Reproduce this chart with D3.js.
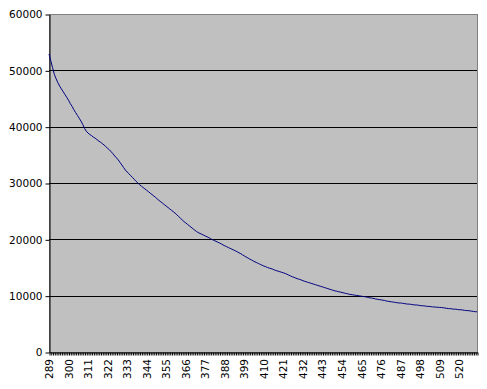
<!DOCTYPE html>
<html>
<head>
<meta charset="utf-8">
<script src="https://cdn.jsdelivr.net/npm/d3@7"></script>
<style>
  body { margin: 0; background: #fff; }
  svg text { font-family: "DejaVu Sans", sans-serif; font-size: 10.5px; fill: #000; }
</style>
</head>
<body>
<script>
// categories 289 .. 530
const categories = d3.range(289, 531);

const values = [
  52900, 51700, 50500, 49300, 48500, 47800, 47200, 46700, 46200, 45700,
  45200, 44700, 44100, 43600, 43000, 42500, 42000, 41500, 41000, 40400,
  39700, 39200, 38850, 38600, 38400, 38150, 37950, 37700, 37450, 37250,
  37000, 36750, 36450, 36150, 35900, 35550, 35200, 34800, 34450, 34100,
  33650, 33200, 32750, 32300, 31950, 31650, 31300, 31000, 30650, 30300,
  30000, 29700, 29450, 29200, 28950, 28700, 28450, 28200, 27950, 27700,
  27450, 27150, 26900, 26650, 26400, 26150, 25900, 25650, 25400, 25150,
  24900, 24650, 24350, 24050, 23750, 23450, 23150, 22900, 22650, 22400,
  22150, 21900, 21650, 21400, 21200, 21050, 20900, 20750, 20600, 20450,
  20300, 20100, 19950, 19800, 19650, 19500, 19350, 19200, 19000, 18850,
  18700, 18550, 18400, 18250, 18100, 17950, 17800, 17600, 17450, 17250,
  17050, 16850, 16700, 16500, 16350, 16150, 16000, 15850, 15700, 15550,
  15400, 15250, 15150, 15000, 14900, 14800, 14700, 14550, 14450, 14350,
  14250, 14150, 14050, 13950, 13800, 13650, 13500, 13350, 13250, 13100,
  13000, 12900, 12800, 12650, 12550, 12450, 12350, 12250, 12150, 12050,
  11950, 11850, 11750, 11650, 11550, 11450, 11350, 11250, 11150, 11050,
  10950, 10850, 10800, 10700, 10650, 10550, 10500, 10400, 10350, 10250,
  10200, 10150, 10100, 10050, 10000, 9950, 9900, 9850, 9800, 9750,
  9650, 9600, 9550, 9500, 9400, 9350, 9300, 9250, 9200, 9150,
  9050, 9000, 8950, 8900, 8850, 8800, 8750, 8700, 8700, 8650,
  8600, 8550, 8500, 8500, 8450, 8400, 8350, 8350, 8300, 8250,
  8200, 8200, 8150, 8100, 8100, 8050, 8000, 8000, 7950, 7950,
  7900, 7900, 7850, 7800, 7750, 7700, 7700, 7650, 7600, 7600,
  7550, 7500, 7500, 7450, 7400, 7350, 7350, 7300, 7250, 7200,
  7150, 7150
];

const yTicks = [0, 10000, 20000, 30000, 40000, 50000, 60000];
const xTickLabels = [289, 300, 311, 322, 333, 344, 355, 366, 377, 388, 399,
  410, 421, 432, 443, 454, 465, 476, 487, 498, 509, 520];

const width = 487, height = 389;
const margin = {top: 14, right: 10, bottom: 37, left: 49};

const svg = d3.select('body').append('svg')
  .attr('width', width)
  .attr('height', height);

const x = d3.scalePoint()
  .domain(categories)
  .range([margin.left, width - margin.right]);

const y = d3.scaleLinear()
  .domain([0, 60000])
  .range([height - margin.bottom, margin.top]);

// plot area
svg.append('rect')
  .attr('x', margin.left + 0.5)
  .attr('y', margin.top + 0.5)
  .attr('width', width - margin.right - margin.left)
  .attr('height', height - margin.bottom - margin.top)
  .attr('fill', '#c0c0c0')
  .attr('stroke', '#808080')
  .attr('stroke-width', 1);

// gridlines
svg.append('g')
  .selectAll('line')
  .data(yTicks.filter(d => d > 0 && d < 60000))
  .join('line')
  .attr('x1', margin.left)
  .attr('x2', width - margin.right)
  .attr('y1', d => Math.round(y(d)) + 0.5)
  .attr('y2', d => Math.round(y(d)) + 0.5)
  .attr('stroke', '#000')
  .attr('stroke-width', 1);

// y axis
svg.append('g')
  .attr('transform', `translate(${margin.left + 0.5},0.5)`)
  .call(d3.axisLeft(y).tickValues(yTicks).tickSize(4).tickSizeOuter(0).tickPadding(3).tickFormat(d3.format('d')))
  .call(g => g.selectAll('text').style('font-family', '"DejaVu Sans", sans-serif').style('font-size', '10.5px'))
  .call(g => g.selectAll('line,path').attr('stroke', '#000'));

// x axis, a small tick for every category
svg.append('g')
  .attr('transform', `translate(0.5,${height - margin.bottom + 0.5})`)
  .call(d3.axisBottom(x).tickValues(categories).tickSize(3).tickSizeOuter(0).tickFormat(''))
  .call(g => g.selectAll('line,path').attr('stroke', '#000'));

// rotated category labels
svg.append('g')
  .selectAll('text')
  .data(xTickLabels)
  .join('text')
  .attr('transform', d => `translate(${x(d) + 4},${height - margin.bottom + 7}) rotate(-90)`)
  .attr('text-anchor', 'end')
  .text(d => d);

// the series
const line = d3.line()
  .x((d, i) => x(categories[i]))
  .y(d => y(d));

svg.append('path')
  .datum(values)
  .attr('d', line)
  .attr('fill', 'none')
  .attr('stroke', '#000080')
  .attr('stroke-width', 1);
</script>
</body>
</html>
